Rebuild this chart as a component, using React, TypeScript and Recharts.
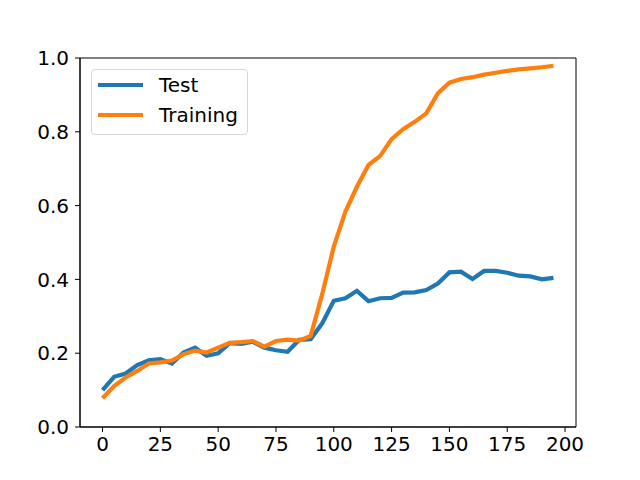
import { LineChart, Line, XAxis, YAxis, ReferenceArea } from 'recharts';

// epochs on the x axis
const epochs = [
  0, 5, 10, 15, 20, 25, 30, 35, 40, 45, 50, 55, 60, 65, 70, 75, 80, 85, 90, 95,
  100, 105, 110, 115, 120, 125, 130, 135, 140, 145, 150, 155, 160, 165, 170, 175,
  180, 185, 190, 195,
];

const testScores = [
  0.1, 0.136, 0.145, 0.168, 0.181, 0.184, 0.172, 0.202, 0.215, 0.193, 0.2, 0.227,
  0.225, 0.231, 0.215, 0.208, 0.204, 0.236, 0.238, 0.281, 0.342, 0.349, 0.369,
  0.341, 0.349, 0.35, 0.364, 0.365, 0.371, 0.389, 0.419, 0.421, 0.401, 0.423,
  0.423, 0.418, 0.41, 0.408, 0.4, 0.404,
];

const trainingScores = [
  0.078, 0.111, 0.134, 0.152, 0.172, 0.175, 0.18, 0.197, 0.207, 0.202, 0.215,
  0.228, 0.23, 0.233, 0.218, 0.233, 0.237, 0.234, 0.247, 0.36, 0.489, 0.583,
  0.651, 0.71, 0.734, 0.78, 0.807, 0.827, 0.85, 0.904, 0.933, 0.943, 0.948,
  0.955, 0.96, 0.965, 0.969, 0.972, 0.975, 0.979,
];

const xTicks = [0, 25, 50, 75, 100, 125, 150, 175, 200];
const yTicks = [0, 0.2, 0.4, 0.6, 0.8, 1.0];

const X_DOMAIN = [-9.75, 204.75];
const BLUE = '#1f77b4';
const ORANGE = '#ff7f0e';
const FONT = 'DejaVu Sans, sans-serif';

const data = epochs.map((epoch, i) => ({
  epoch,
  test: testScores[i],
  training: trainingScores[i],
}));

const tickStyle = { fontSize: 20, fill: '#000', fontFamily: FONT };

const LegendBox = () => {
  const items = [
    { name: 'Test', color: BLUE },
    { name: 'Training', color: ORANGE },
  ];
  return (
    <div
      style={{
        position: 'absolute',
        left: 91,
        top: 69,
        width: 157,
        height: 66,
        border: '1px solid #d6d6d6',
        borderRadius: 4,
        background: 'rgba(255,255,255,0.8)',
        boxSizing: 'border-box',
        fontFamily: FONT,
        fontSize: 20,
        color: '#000',
        paddingTop: 0,
      }}
    >
      {items.map((it) => (
        <div
          key={it.name}
          style={{ display: 'flex', alignItems: 'center', height: 30, lineHeight: '30px' }}
        >
          <span
            style={{
              display: 'inline-block',
              width: 45,
              height: 4,
              background: it.color,
              marginLeft: 6,
              marginRight: 16,
            }}
          />
          <span>{it.name}</span>
        </div>
      ))}
    </div>
  );
};

export default function App() {
  return (
    <div style={{ position: 'absolute', left: 0, top: 0, width: 640, height: 480, background: '#fff' }}>
      <LineChart
        width={640}
        height={480}
        data={data}
        margin={{ top: 58, right: 64, bottom: 0, left: 0 }}
      >
        <XAxis
          dataKey="epoch"
          type="number"
          domain={X_DOMAIN}
          ticks={xTicks}
          allowDataOverflow
          height={53}
          tickSize={5}
          tickMargin={5}
          tick={tickStyle}
          stroke="#000"
          axisLine={{ stroke: '#000', strokeWidth: 1 }}
          tickLine={{ stroke: '#000', strokeWidth: 1 }}
        />
        <YAxis
          type="number"
          domain={[0, 1]}
          ticks={yTicks}
          tickFormatter={(v: number) => v.toFixed(1)}
          width={80}
          tickSize={5}
          tickMargin={6}
          tick={tickStyle}
          stroke="#000"
          axisLine={{ stroke: '#000', strokeWidth: 1 }}
          tickLine={{ stroke: '#000', strokeWidth: 1 }}
        />
        <Line
          type="linear"
          dataKey="test"
          name="Test"
          stroke={BLUE}
          strokeWidth={4.2}
          dot={false}
          isAnimationActive={false}
        />
        <Line
          type="linear"
          dataKey="training"
          name="Training"
          stroke={ORANGE}
          strokeWidth={4.2}
          dot={false}
          isAnimationActive={false}
        />
        <ReferenceArea
          x1={X_DOMAIN[0]}
          x2={X_DOMAIN[1]}
          y1={0}
          y2={1}
          fill="none"
          fillOpacity={0}
          stroke="#000"
          strokeWidth={1}
          ifOverflow="visible"
        />
      </LineChart>
      <LegendBox />
    </div>
  );
}
